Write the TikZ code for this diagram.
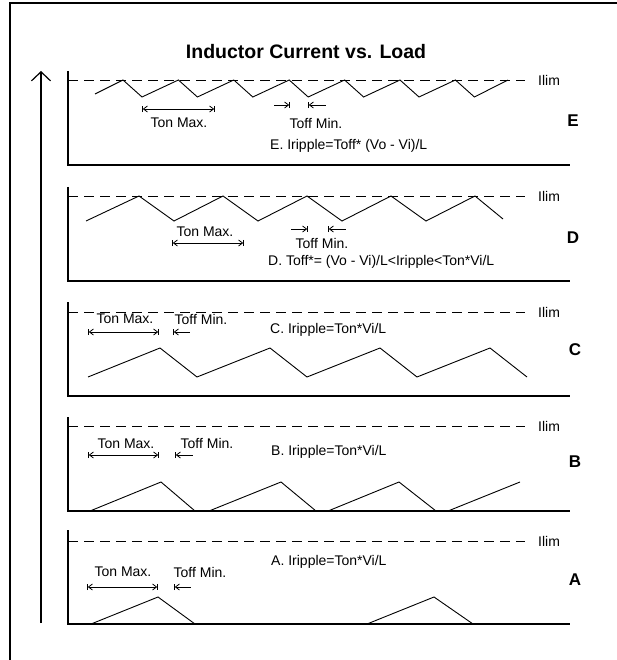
\documentclass[tikz,border=0pt]{standalone}
\usepackage{fontspec}
\setmainfont{Liberation Sans}
\usetikzlibrary{arrows.meta}
\begin{document}
\begin{tikzpicture}[x=1pt,y=-1pt,
  >={Straight Barb[length=4pt,width=6pt]},
  lbl/.style={font=\fontsize{14}{16}\selectfont, inner sep=0pt},
  ttl/.style={font=\bfseries\fontsize{19.5}{22}\selectfont, inner sep=0pt},
  letter/.style={font=\bfseries\fontsize{17}{20}\selectfont, inner sep=0pt},
  frameline/.style={line width=1.3pt},
  axisline/.style={line width=1.2pt},
  limline/.style={line width=0.9pt, dash pattern=on 10pt off 6pt},
  wave/.style={line width=0.9pt, line join=miter},
  dimline/.style={line width=0.8pt, |<->|},
  tickin/.style={line width=0.8pt, ->|},
  tickback/.style={line width=0.8pt, |<-},
  bigarrow/.style={line width=1.2pt, -{Straight Barb[length=9pt,width=19pt]}}
]
\useasboundingbox (0,0) rectangle (617,660);
% frame
\draw[frameline] (10,660) -- (10,3) -- (617,3);
% load arrow
\coordinate (arrlow) at (41,623);
\coordinate (arrtop) at (41,71);
\draw[bigarrow] (arrlow) -- (arrtop);
% title
\node[ttl] (title) at (306,52) {Inductor Current vs. Load};

% ---------------- Panel E
\draw[axisline] (68,71) -- (68,165) -- (570,165);
\draw[limline] (68,80) -- (525,80);
\node[lbl, anchor=west] (ilimE) at (538,80) {Ilim};
\draw[wave] (95,94) -- (123,80) -- (142,97) -- (178.4,80) -- (197.4,97) -- (233.8,80)
  -- (252.8,97) -- (289.2,80) -- (308.2,97) -- (344.6,80) -- (363.6,97) -- (400,80)
  -- (419,97) -- (455.4,80) -- (474.4,97) -- (508,80);
\draw[dimline] (142,109) -- (215,109);
\node[lbl] (tonE) at (179,123) {Ton Max.};
\draw[tickin] (274,105) -- (290,105);
\draw[tickback] (308,105) -- (326,105);
\node[lbl] (toffE) at (316,123) {Toff Min.};
\node[lbl, anchor=west] (eqE) at (270,146) {E. Iripple=Toff* (Vo - Vi)/L};
\node[letter] (labE) at (573,121) {E};

% ---------------- Panel D
\draw[axisline] (68,187) -- (68,281) -- (570,281);
\draw[limline] (68,196) -- (525,196);
\node[lbl, anchor=west] (ilimD) at (538,196) {Ilim};
\draw[wave] (86,221) -- (139,196) -- (174,221) -- (223,196) -- (258,221) -- (307,196)
  -- (342,221) -- (391,196) -- (426,221) -- (475,196) -- (503,219);
\draw[tickin] (291,229) -- (308,229);
\draw[tickback] (328,229) -- (346,229);
\node[lbl] (toffD) at (322,243) {Toff Min.};
\node[lbl] (tonD) at (205,232) {Ton Max.};
\draw[dimline] (172,243) -- (244,243);
\node[lbl, anchor=west] (eqD) at (268,262) {D. Toff*= (Vo - Vi)/L<Iripple<Ton*Vi/L};
\node[letter] (labD) at (573,238) {D};

% ---------------- Panel C
\draw[axisline] (68,302) -- (68,396) -- (570,396);
\draw[limline] (68,312) -- (525,312);
\node[lbl, anchor=west] (ilimC) at (538,312) {Ilim};
\draw[wave] (88,377) -- (160,348) -- (197,377) -- (270,348) -- (307,377) -- (380,348)
  -- (417,377) -- (490,348) -- (527,377);
\draw[dimline] (88,332) -- (159,332);
\node[lbl] (tonC) at (125,319) {Ton Max.};
\draw[tickback] (173,332) -- (190,332);
\node[lbl] (toffC) at (201,319) {Toff Min.};
\node[lbl, anchor=west] (eqC) at (270,330) {C. Iripple=Ton*Vi/L};
\node[letter] (labC) at (575,350) {C};

% ---------------- Panel B
\draw[axisline] (68,417) -- (68,511) -- (570,511);
\draw[limline] (68,426) -- (525,426);
\node[lbl, anchor=west] (ilimB) at (538,426) {Ilim};
\draw[wave] (90,511) -- (161,482) -- (195,511);
\draw[wave] (209,511) -- (281,482) -- (316,511);
\draw[wave] (328,511) -- (399,482) -- (436,511);
\draw[wave] (448,511) -- (520,482);
\draw[dimline] (88,455) -- (159,455);
\node[lbl] (tonB) at (126,444) {Ton Max.};
\draw[tickback] (175,455) -- (193,455);
\node[lbl] (toffB) at (207,443) {Toff Min.};
\node[lbl, anchor=west] (eqB) at (271,452) {B. Iripple=Ton*Vi/L};
\node[letter] (labB) at (575,462) {B};

% ---------------- Panel A
\draw[axisline] (68,530) -- (68,624) -- (570,624);
\draw[limline] (68,541) -- (525,541);
\node[lbl, anchor=west] (ilimA) at (538,541) {Ilim};
\draw[wave] (91,624) -- (158,597) -- (195,624);
\draw[wave] (367,624) -- (434,597) -- (473,624);
\draw[dimline] (87,587) -- (158,587);
\node[lbl] (tonA) at (123,572) {Ton Max.};
\draw[tickback] (174,587) -- (191,587);
\node[lbl] (toffA) at (200,572) {Toff Min.};
\node[lbl, anchor=west] (eqA) at (271,562) {A. Iripple=Ton*Vi/L};
\node[letter] (labA) at (575,580) {A};
\end{tikzpicture}
\end{document}
